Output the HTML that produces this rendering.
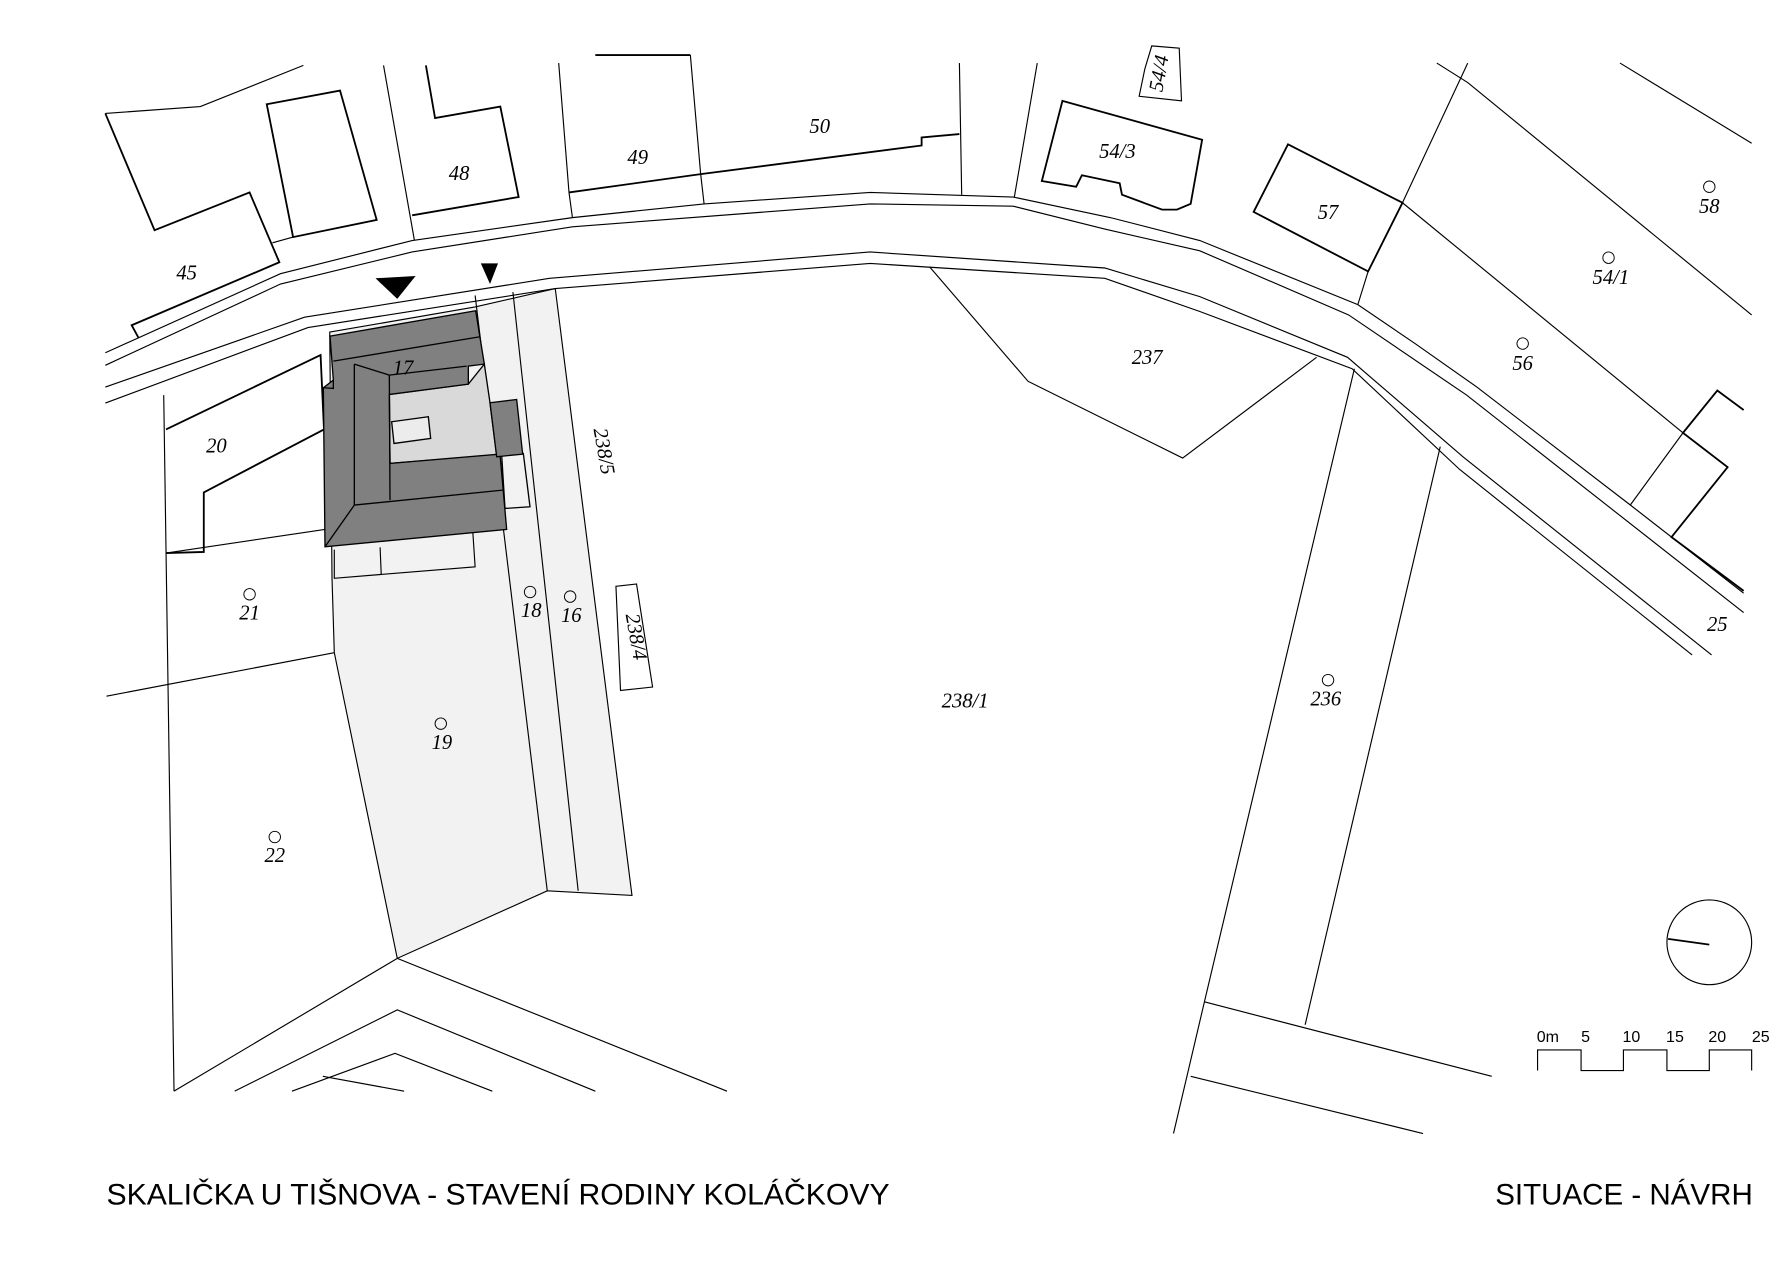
<!DOCTYPE html>
<html><head><meta charset="utf-8"><style>
html,body{margin:0;padding:0;background:#fff}
svg{display:block}
.l{fill:none;stroke:#000;stroke-width:1}
.b{fill:none;stroke:#000;stroke-width:1.6}
.t{font-family:"Liberation Serif",serif;font-style:italic;font-size:18px;text-anchor:middle}
.h{font-family:"Liberation Sans",sans-serif;font-size:26px}
.s{font-family:"Liberation Sans",sans-serif;font-size:14px;text-anchor:middle}
</style></head><body>
<svg width="1786" height="1263" viewBox="0 0 1560 1103" xmlns="http://www.w3.org/2000/svg">
<rect width="1560" height="1103" fill="#fff"/>
<polygon points="288,290 415,268 485,252 552,782 478,778 347,837 292,570 290,505" fill="#f2f2f2" stroke="#000" stroke-width="1"/>
<polyline class="l" points="415,258 478,778"/>
<polyline class="l" points="448,255 505,778"/>
<!-- roads -->
<polyline class="l" points="92,308 245,239 360,210 500,190 615,178 760,168 885,172 970,190 1048,210 1186,266 1236,300 1290,338 1424,441 1523,518"/>
<polyline class="l" points="92,319 245,248 360,220 500,198 760,178 885,180 965,200 1048,219 1178,275 1281,345 1523,535"/>
<polyline class="l" points="92,338 266,277 480,243 760,220 965,234 1048,259 1177,312 1278,399 1495,572"/>
<polyline class="l" points="92,352 269,286 485,252 760,230 965,243 1048,272 1181,322 1275,410 1478,572"/>
<!-- north parcels -->
<polyline class="l" points="92,99 175,93 265,57"/>
<polyline class="b" points="92,99 135,201 218,168 244,229 115,284 121,295"/>
<polyline class="l" points="238,212 256,207"/>
<polygon class="b" points="233,91 297,79 329,192 256,207"/>
<polyline class="l" points="335,57 362,210"/>
<polyline class="b" points="372,57 380,103 437,93 453,172 360,188"/>
<polyline class="l" points="488,55 497,168 500,190"/>
<polyline class="b" points="520,48 603,48"/>
<polyline class="l" points="603,48 612,152 615,178"/>
<polyline class="b" points="497,168 612,152 805,127 805,120 838,117"/>
<polyline class="l" points="838,55 840,170"/>
<polyline class="l" points="906,55 886,172"/>
<polygon class="b" points="928,88 1050,122 1040,178 1028,183 1015,183 980,170 978,160 945,153 940,163 910,158"/>
<polygon class="l" points="1000,60 1006,40 1030,42 1032,88 995,84"/>
<polygon class="b" points="1125,126 1225,177 1195,237 1095,185"/>
<polyline class="l" points="1282,55 1225,177 1195,237 1186,266"/>
<polyline class="l" points="1255,55 1282,72 1530,275"/>
<polyline class="l" points="1415,55 1530,125"/>
<polyline class="l" points="1225,177 1470,378"/>
<polyline class="b" points="1523,358 1500,341 1470,378 1509,408 1460,469 1523,516"/>
<polyline class="l" points="1470,378 1424,441"/>
<!-- 237 -->
<polyline class="l" points="812,233 898,333 1033,400 1150,312"/>
<!-- 236 -->
<polyline class="l" points="1183,322 1052,875 1025,990"/>
<polyline class="l" points="1258,390 1140,895"/>
<polyline class="l" points="1052,875 1303,940"/>
<polyline class="l" points="1040,940 1243,990"/>
<!-- west -->
<polyline class="l" points="143,345 152,953"/>
<polyline class="b" points="145,375 280,310 283,375 178,430 178,482 145,483"/>
<polyline class="l" points="145,483 286,462"/>
<polyline class="l" points="93,608 292,570"/>
<polyline class="l" points="292,480 292,505 415,495 413,465"/>
<polyline class="l" points="332,478 333,502"/>
<!-- chevrons -->
<polyline class="l" points="152,953 347,837 635,953"/>
<polyline class="l" points="205,953 347,882 520,953"/>
<polyline class="l" points="255,953 345,920 430,953"/>
<polyline class="l" points="282,940 353,953"/>
<!-- building -->
<g transform="scale(0.87346) translate(300,260) scale(0.33333)" stroke="#000" stroke-width="4">
<polygon points="268,403 505,372 553,312 570,428 590,585 270,610" fill="#d9d9d9"/>
<polygon points="275,485 385,470 392,535 282,550" fill="#ececec"/>
<polygon points="605,585 670,580 690,740 615,745" fill="#f2f2f2"/>
<polygon points="90,228 527,152 553,312 505,318 505,372 268,403 270,610 600,582 620,808 75,860 70,383 100,360" fill="#808080"/>
<polyline points="100,303 540,230" fill="none"/>
<polyline points="268,345 500,318" fill="none"/>
<polyline points="163,312 268,345 270,720" fill="none"/>
<polyline points="100,360 100,385 70,383" fill="none"/>
<polyline points="163,312 163,735 75,860" fill="none"/>
<polyline points="163,735 608,690" fill="none"/>
<polygon points="570,428 650,418 668,582 590,590" fill="#808080"/>
</g>
<polygon points="328,243 363,241 347,261"/>
<polygon points="420,230 435,230 428,248"/>
<g class="t">
<text x="163" y="244">45</text><text x="401" y="157">48</text><text x="557" y="143">49</text><text x="716" y="116">50</text>
<text x="976" y="138">54/3</text><text x="1160" y="191">57</text><text x="1493" y="186">58</text><text x="1407" y="248">54/1</text>
<text x="1330" y="323">56</text><text x="1002" y="318">237</text><text x="352" y="327">17</text><text x="189" y="395">20</text>
<text x="218" y="541">21</text><text x="464" y="539">18</text><text x="499" y="543">16</text><text x="386" y="654">19</text>
<text x="240" y="753">22</text><text x="843" y="618">238/1</text><text x="1158" y="616">236</text><text x="1500" y="551">25</text>
<text transform="translate(522,395) rotate(80)">238/5</text>
<text transform="translate(550,557) rotate(80)">238/4</text>
<text transform="translate(1018,65) rotate(-80)">54/4</text>
</g>
<g fill="none" stroke="#000" stroke-width="0.8">
<circle cx="1493" cy="163" r="5"/><circle cx="1405" cy="225" r="5"/><circle cx="1330" cy="300" r="5"/>
<circle cx="218" cy="519" r="5"/><circle cx="463" cy="517" r="5"/><circle cx="498" cy="521" r="5"/>
<circle cx="385" cy="632" r="5"/><circle cx="240" cy="731" r="5"/><circle cx="1160" cy="594" r="5"/>
</g>
<polygon class="l" points="538,512 556,510 570,600 542,603"/>
<circle cx="1493" cy="823" r="37" class="l"/>
<line x1="1457" y1="820" x2="1493" y2="825" stroke="#000" stroke-width="1.5"/>
<g class="s"><text x="1352" y="910">0m</text><text x="1385" y="910">5</text><text x="1425" y="910">10</text><text x="1463" y="910">15</text><text x="1500" y="910">20</text><text x="1538" y="910">25</text></g>
<polyline class="l" points="1343,935 1343,917 1381,917 1381,935 1418,935 1418,917 1456,917 1456,935 1493,935 1493,917 1530,917 1530,935"/>
<text class="h" x="93" y="1052" textLength="684" lengthAdjust="spacingAndGlyphs">SKALIČKA U TIŠNOVA - STAVENÍ RODINY KOLÁČKOVY</text>
<text class="h" x="1306" y="1052" textLength="225" lengthAdjust="spacingAndGlyphs">SITUACE - NÁVRH</text>
</svg>
</body></html>
